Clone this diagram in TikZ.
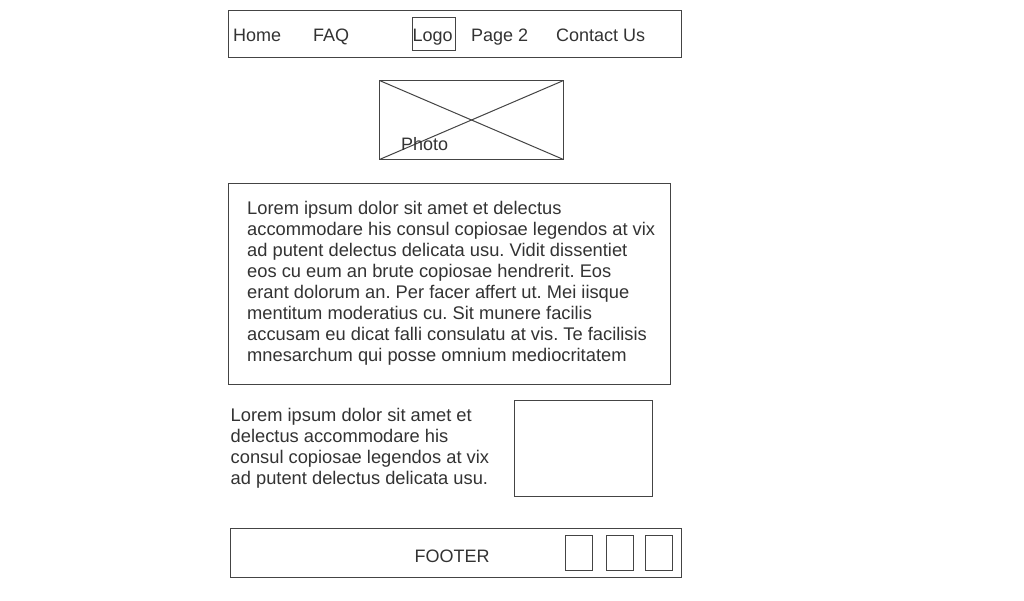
\documentclass[tikz,border=0pt]{standalone}
\usepackage{fontspec}
\setmainfont{Liberation Sans}
\frenchspacing
\definecolor{linec}{HTML}{444444}
\definecolor{textc}{HTML}{333333}
\tikzset{
  box/.style={draw=linec, line width=1pt},
  navtxt/.style={anchor=base west, inner sep=0pt, text=textc, font=\fontsize{18}{22}\selectfont},
  para/.style={anchor=north west, inner sep=0pt, text=textc, align=left, font=\fontsize{18.3}{21}\selectfont},
}
\begin{document}
\begin{tikzpicture}[x=1pt,y=-1pt]
\fill[white] (0,0) rectangle (1024,600);
\useasboundingbox (0,0) rectangle (1024,600);
% nav bar
\draw[box] (228.5,10.5) rectangle (681.5,57.5);
\node[box, minimum width=43pt, minimum height=33pt, inner sep=0pt] (logobox) at (434,34) {};
\node[navtxt] (home) at (233,41.5) {Home};
\node[navtxt] (faq) at (313,41.5) {FAQ};
\node[navtxt] (logo) at (412.5,41.5) {Logo};
\node[navtxt] (page2) at (471,41.5) {Page 2};
\node[navtxt] (contact) at (556,41.5) {Contact Us};
% photo
\draw[box] (379.5,80.5) coordinate (ptl) rectangle (563.5,159.5) coordinate (pbr);
\coordinate (ptr) at (563.5,80.5);
\coordinate (pbl) at (379.5,159.5);
\draw[linec, line width=1pt] (ptl) -- (pbr);
\draw[linec, line width=1pt] (pbl) -- (ptr);
\node[navtxt] (photo) at (401,150.5) {Photo};
% main text
\draw[box] (228.5,183.5) rectangle (670.5,384.5);
\node[para] (lorem1) at (247,201.3) {Lorem ipsum dolor sit amet et delectus\\
accommodare his consul copiosae legendos at vix\\
ad putent delectus delicata usu. Vidit dissentiet\\
eos cu eum an brute copiosae hendrerit. Eos\\
erant dolorum an. Per facer affert ut. Mei iisque\\
mentitum moderatius cu. Sit munere facilis\\
accusam eu dicat falli consulatu at vis. Te facilisis\\
mnesarchum qui posse omnium mediocritatem};
% second text and image
\node[para] (lorem2) at (230.5,408.3) {Lorem ipsum dolor sit amet et\\
delectus accommodare his\\
consul copiosae legendos at vix\\
ad putent delectus delicata usu.};
\draw[box] (514.5,400.5) rectangle (652.5,496.5);
% footer
\draw[box] (230.5,528.5) rectangle (681.5,577.5);
\node[navtxt, anchor=base] (footer) at (452,562.5) {FOOTER};
\draw[box] (565.5,535.5) rectangle (592.5,570.5);
\draw[box] (606.5,535.5) rectangle (633.5,570.5);
\draw[box] (645.5,535.5) rectangle (672.5,570.5);
\end{tikzpicture}
\end{document}
